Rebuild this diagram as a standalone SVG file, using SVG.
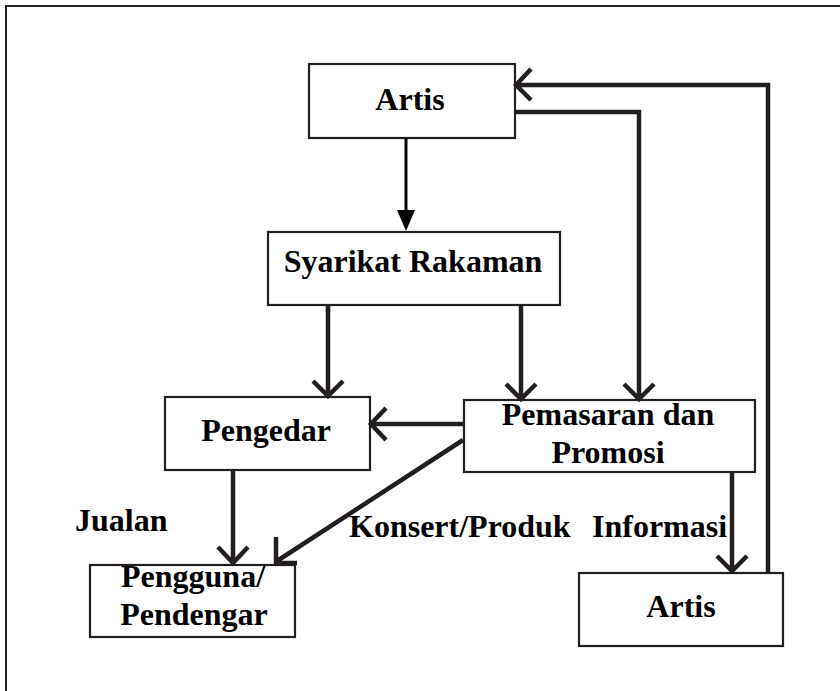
<svg xmlns="http://www.w3.org/2000/svg" width="840" height="691" viewBox="0 0 840 691">
<style>
.box{fill:#fff;stroke:#231f20;stroke-width:2.2}
.t{font-family:"Liberation Serif","Times New Roman",serif;font-weight:bold;font-size:32px;fill:#000}
.c{fill:none;stroke:#231f20;stroke-width:4.5;stroke-linejoin:miter}
.thin{fill:none;stroke:#000;stroke-width:3}
</style>
<rect width="840" height="691" fill="#fff"/>
<path d="M6,691 V6 H840" fill="none" stroke="#231f20" stroke-width="2"/>
<g id="n-artis-top"><rect class="box" x="309" y="64" width="206" height="74"/><text class="t" x="410" y="110" text-anchor="middle">Artis</text></g>
<g id="n-syarikat"><rect class="box" x="268" y="232" width="292" height="73"/><text class="t" x="413" y="272" text-anchor="middle">Syarikat Rakaman</text></g>
<g id="n-pengedar"><rect class="box" x="165" y="397" width="205" height="73"/><text class="t" x="266" y="441" text-anchor="middle">Pengedar</text></g>
<g id="n-pemasaran"><rect class="box" x="464" y="400" width="291" height="72"/><text class="t" x="608" y="425" text-anchor="middle">Pemasaran dan</text><text class="t" x="608" y="463" text-anchor="middle">Promosi</text></g>
<g id="n-pengguna"><rect class="box" x="90" y="565" width="205" height="72"/><text class="t" x="193" y="587" text-anchor="middle">Pengguna/</text><text class="t" x="194" y="625" text-anchor="middle">Pendengar</text></g>
<g id="n-artis-bottom"><rect class="box" x="579" y="573" width="204" height="73"/><text class="t" x="681" y="617" text-anchor="middle">Artis</text></g>
<g id="connectors">
<line class="thin" x1="406" y1="138" x2="406" y2="212"/>
<polygon points="397,210 415,210 406,231" fill="#000"/>
<path class="c" d="M328,305 V396 M313,381 L328,396 L343,381"/>
<path class="c" d="M521,305 V399 M506,384 L521,399 L536,384"/>
<path class="c" d="M515,112 H639 V399 M624,384 L639,399 L654,384"/>
<path class="c" d="M464,424 H371 M386,408 L371,424 L386,440"/>
<path class="c" d="M463,440 L277,561 M276,537 V563 H297"/>
<path class="c" d="M233,470 V563 M218,547 L233,563 L248,547"/>
<path class="c" d="M732,472 V571 M717,556 L732,571 L747,556"/>
<path class="c" d="M768,573 V85 H516 M531,69 L516,85 L531,100"/>
</g>
<text class="t" x="75" y="531">Jualan</text>
<text class="t" x="349" y="537">Konsert/Produk</text>
<text class="t" x="592" y="537">Informasi</text>
</svg>
